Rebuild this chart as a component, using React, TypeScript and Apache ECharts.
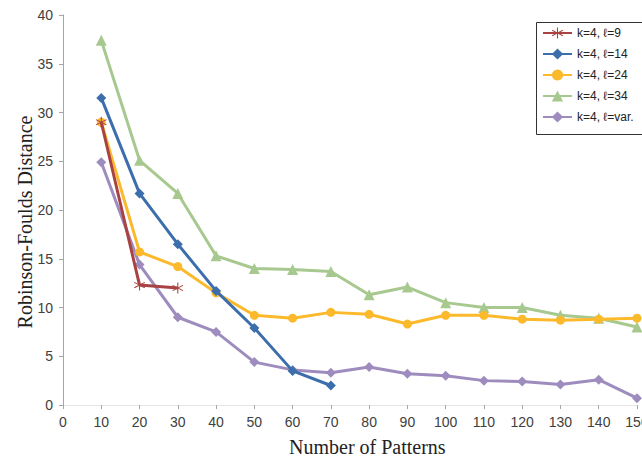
import React, { useEffect, useRef } from "react";
import * as echarts from "echarts";

const patterns = [10, 20, 30, 40, 50, 60, 70, 80, 90, 100, 110, 120, 130, 140, 150];
const seriesNames = ["k=4, ℓ=9", "k=4, ℓ=14", "k=4, ℓ=24", "k=4, ℓ=34", "k=4, ℓ=var."];
const l9 = [29.0, 12.3, 12.0];
const l14 = [31.5, 21.7, 16.5, 11.7, 7.9, 3.5, 2.0];
const l24 = [29.0, 15.7, 14.2, 11.5, 9.2, 8.9, 9.5, 9.3, 8.3, 9.2, 9.2, 8.8, 8.7, 8.8, 8.9];
const l34 = [37.4, 25.1, 21.7, 15.3, 14.0, 13.9, 13.7, 11.3, 12.1, 10.5, 10.0, 10.0, 9.2, 8.9, 8.0];
const lvar = [24.9, 14.4, 9.0, 7.5, 4.4, 3.6, 3.3, 3.9, 3.2, 3.0, 2.5, 2.4, 2.1, 2.6, 0.7];
const xTicks = { min: 0, max: 150, interval: 10 };
const yTicks = { min: 0, max: 40, interval: 5 };

const colors = ["#a94343", "#3c6eac", "#fbb92b", "#a7c98f", "#9d8cbd"];
const symbols = [
  "path://M-0.5,-6 L0.5,-6 L0.5,-0.9 L4.7,-3.4 L5.2,-2.5 L1,0 L5.2,2.5 L4.7,3.4 L0.5,0.9 L0.5,6 L-0.5,6 L-0.5,0.9 L-4.7,3.4 L-5.2,2.5 L-1,0 L-5.2,-2.5 L-4.7,-3.4 L-0.5,-0.9 Z",
  "diamond",
  "circle",
  "triangle",
  "diamond",
];
const symbolSizes = [11, 10, 9, 11, 10];

export default function App() {
  const ref = useRef<HTMLDivElement>(null);
  useEffect(() => {
    if (!ref.current) return;
    const chart = echarts.init(ref.current, null, { renderer: "svg" });
    const all = [l9, l14, l24, l34, lvar];
    const sans = "Liberation Sans, Arial, sans-serif";
    const serif = "Liberation Serif, Times New Roman, serif";
    chart.setOption({
      animation: false,
      backgroundColor: "#ffffff",
      grid: { left: 63, right: 5, top: 15, bottom: 54, containLabel: false, outerBoundsMode: "none" },
      legend: {
        orient: "vertical",
        left: 536,
        top: 22,
        padding: [5, 10, 2, 6],
        itemWidth: 29,
        itemHeight: 14,
        itemGap: 9,
        borderWidth: 0,
        textStyle: { fontFamily: sans, fontSize: 12, color: "#222222" },
        data: seriesNames,
        z: 10,
      },
      xAxis: [
        {
          type: "value",
          ...xTicks,
          axisLine: { show: true, onZero: false, lineStyle: { color: "#a6a6a6", width: 1 } },
          axisTick: { show: true, length: 4, lineStyle: { color: "#a6a6a6" } },
          axisLabel: { fontFamily: sans, fontSize: 14, color: "#404040", margin: 10 },
          splitLine: { show: false },
        },
        {
          type: "value",
          position: "top",
          ...xTicks,
          axisLine: { show: true, lineStyle: { color: "#e6e6e6", width: 1 } },
          axisTick: { show: false },
          axisLabel: { show: false },
          splitLine: { show: false },
        },
      ],
      yAxis: {
        type: "value",
        ...yTicks,
        axisLine: { show: true, lineStyle: { color: "#a6a6a6", width: 1 } },
        axisTick: { show: true, length: 4, lineStyle: { color: "#a6a6a6" } },
        axisLabel: { fontFamily: sans, fontSize: 14, color: "#404040", margin: 10 },
        splitLine: { show: false },
      },
      graphic: [
        {
          type: "rect",
          z: 9,
          shape: { x: 536.5, y: 22.5, width: 130, height: 112 },
          style: { fill: "#ffffff", stroke: "#333333", lineWidth: 1 },
        },
        {
          type: "text",
          left: 289,
          top: 437,
          style: { text: "Number of Patterns", fontFamily: serif, fontSize: 20, fill: "#222222" },
        },
        {
          type: "text",
          x: 25,
          y: 222,
          rotation: Math.PI / 2,
          style: {
            text: "Robinson-Foulds Distance",
            fontFamily: serif,
            fontSize: 20,
            fill: "#222222",
            align: "center",
            verticalAlign: "middle",
          },
        },
      ],
      series: all.map((vals, i) => ({
        name: seriesNames[i],
        type: "line",
        data: vals.map((v, j) => [patterns[j], v]),
        symbol: symbols[i],
        symbolSize: symbolSizes[i],
        showSymbol: true,
        lineStyle: { color: colors[i], width: 3 },
        itemStyle: { color: colors[i] },
        z: [5, 4, 3, 2, 1][i] + 2,
      })),
    });
    return () => chart.dispose();
  }, []);
  return <div ref={ref} style={{ width: 642, height: 459, position: "absolute", left: 0, top: 0 }} />;
}
